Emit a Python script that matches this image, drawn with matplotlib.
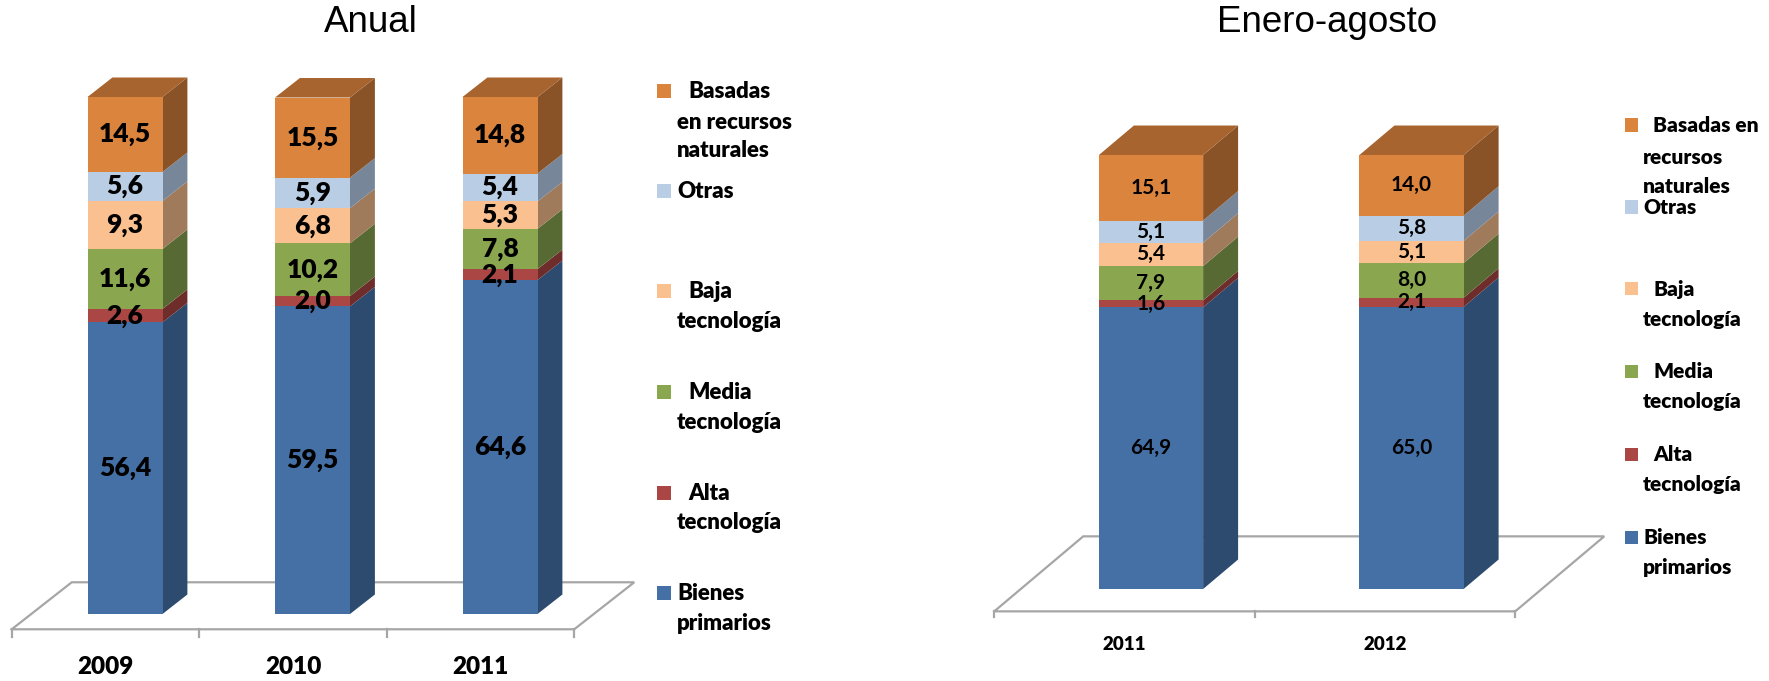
import matplotlib
matplotlib.use("Agg")
import matplotlib.pyplot as plt
from matplotlib.patches import Rectangle
import numpy as np

# ---- data -------------------------------------------------------------
series = ["Bienes primarios", "Alta tecnología", "Media tecnología",
          "Baja tecnología", "Otras", "Basadas en recursos naturales"]

anual_years = ["2009", "2010", "2011"]
anual_bienes = [56.4, 59.5, 64.6]
anual_alta = [2.6, 2.0, 2.1]
anual_media = [11.6, 10.2, 7.8]
anual_baja = [9.3, 6.8, 5.3]
anual_otras = [5.6, 5.9, 5.4]
anual_basadas = [14.5, 15.5, 14.8]

ea_years = ["2011", "2012"]
ea_bienes = [64.9, 65.0]
ea_alta = [1.6, 2.1]
ea_media = [7.9, 8.0]
ea_baja = [5.4, 5.1]
ea_otras = [5.1, 5.8]
ea_basadas = [15.1, 14.0]

# ---- style ------------------------------------------------------------
front_colors = ["#4570A6", "#AA4643", "#8AA64E", "#FBC08F", "#B9CDE5", "#DB843D"]
side_colors = ["#2D4A6F", "#6E2D2B", "#586A33", "#9F7B5C", "#778699", "#8A5327"]
top_color = "#A8642E"
floor_color = "#A6A6A6"

W, H = 1769, 681
fig = plt.figure(figsize=(W / 100, H / 100), dpi=100)


def make_axes(px_left, px_right, px_top, px_bottom, x0_px, cat_px, base_px, pct_px):
    ax = fig.add_axes([px_left / W, 1 - px_bottom / H,
                       (px_right - px_left) / W, (px_bottom - px_top) / H])
    ax.set_xlim((px_left - x0_px) / cat_px, (px_right - x0_px) / cat_px)
    ax.set_ylim((base_px - px_bottom) / pct_px, (base_px - px_top) / pct_px)
    ax.axis("off")
    ax.patch.set_alpha(0)
    return ax


def draw_chart(ax, years, stacks, depth_px, pct_px, cat_px, d0, d1,
               label_size, label_weight, year_size, year_y, tick_len):
    n = len(years)
    cats = np.arange(n)
    Dx = depth_px[0] / cat_px
    Dy = depth_px[1] / pct_px
    yfloor = -d0 * Dy
    # floor outline
    fl = [(-0.5, yfloor), (n - 0.5, yfloor), (n - 0.5 + Dx, yfloor + Dy),
          (-0.5 + Dx, yfloor + Dy), (-0.5, yfloor)]
    ax.plot([p[0] for p in fl], [p[1] for p in fl], color=floor_color,
            lw=1.6, zorder=1, solid_joinstyle="miter")
    for b in np.arange(n + 1) - 0.5:
        ax.plot([b, b], [yfloor, yfloor - tick_len], color=floor_color,
                lw=1.6, zorder=1)

    width = 0.4
    xc = cats + d0 * Dx
    ddx = (d1 - d0) * Dx
    ddy = (d1 - d0) * Dy
    bottoms = np.zeros(n)
    for k, vals in enumerate(stacks):
        vals = np.asarray(vals)
        ax.bar(xc, vals, bottom=bottoms, width=width, color=front_colors[k],
               lw=0, zorder=3)
        for i in range(n):
            xr = xc[i] + width / 2
            y0, y1 = bottoms[i], bottoms[i] + vals[i]
            ax.fill([xr, xr + ddx, xr + ddx, xr],
                    [y0, y0 + ddy, y1 + ddy, y1],
                    color=side_colors[k], lw=0, zorder=2)
            txt = f"{vals[i]:.1f}".replace(".", ",")
            ax.text(xc[i], (y0 + y1) / 2, txt, ha="center", va="center",
                    fontsize=label_size, fontweight=label_weight,
                    family="Lato", color="black", zorder=5)
        bottoms = bottoms + vals
    for i in range(n):
        xl, xr = xc[i] - width / 2, xc[i] + width / 2
        yt = bottoms[i]
        ax.fill([xl, xr, xr + ddx, xl + ddx], [yt, yt, yt + ddy, yt + ddy],
                color=top_color, lw=0, zorder=2)
    for i, y in enumerate(years):
        ax.text(cats[i], year_y, y, ha="center", va="center",
                fontsize=year_size, fontweight="heavy", family="Lato")


# Anual
ax1 = make_axes(0, 640, 40, 681, x0_px=105.5, cat_px=187.5, base_px=614, pct_px=5.17)
draw_chart(ax1, anual_years,
           [anual_bienes, anual_alta, anual_media, anual_baja, anual_otras, anual_basadas],
           depth_px=(60, 47), pct_px=5.17, cat_px=187.5, d0=0.325, d1=0.74,
           label_size=19, label_weight="heavy", year_size=17.5,
           year_y=(614 - 667) / 5.17, tick_len=8 / 5.17)

# Enero-agosto
ax2 = make_axes(960, 1769, 40, 681, x0_px=1124.5, cat_px=260.5, base_px=589, pct_px=4.34)
draw_chart(ax2, ea_years,
           [ea_bienes, ea_alta, ea_media, ea_baja, ea_otras, ea_basadas],
           depth_px=(89, 75), pct_px=4.34, cat_px=260.5, d0=0.298, d1=0.691,
           label_size=15, label_weight="bold", year_size=13.5,
           year_y=(589 - 644) / 4.34, tick_len=6 / 4.34)

# titles
fig.text(371 / W, 1 - 23 / H, "Anual", ha="center", va="center",
         fontsize=26.5, family="Liberation Sans")
fig.text(1327 / W, 1 - 23 / H, "Enero-agosto", ha="center", va="center",
         fontsize=26.5, family="Liberation Sans")


# legends: square centre y and wrapped text lines (text, x, centre y), top to bottom
def draw_legend(sq_x, sq_size, entries, fsize):
    order = [5, 4, 3, 2, 1, 0]
    for k, (sq_y, lines) in zip(order, entries):
        fig.patches.append(Rectangle(((sq_x) / W, 1 - (sq_y + sq_size / 2) / H),
                                     sq_size / W, sq_size / H,
                                     transform=fig.transFigure,
                                     color=front_colors[k], lw=0))
        for text, tx, ty in lines:
            fig.text(tx / W, 1 - (ty + 7) / H, text, ha="left", va="baseline",
                     fontsize=fsize, fontweight="heavy", family="Lato")


draw_legend(657, 14, [
    (91, [("Basadas", 688, 91), ("en recursos", 677, 122), ("naturales", 677, 150)]),
    (191, [("Otras", 677, 191)]),
    (291, [("Baja", 688, 291), ("tecnología", 677, 321)]),
    (392, [("Media", 688, 392), ("tecnología", 677, 422)]),
    (493, [("Alta", 688, 493), ("tecnología", 677, 522)]),
    (593, [("Bienes", 677, 593), ("primarios", 677, 623)]),
], 16)

draw_legend(1625, 13, [
    (125, [("Basadas en", 1653, 125), ("recursos", 1643, 157), ("naturales", 1643, 186)]),
    (207, [("Otras", 1643, 207)]),
    (289, [("Baja", 1653, 289), ("tecnología", 1643, 319)]),
    (371, [("Media", 1653, 371), ("tecnología", 1643, 401)]),
    (454, [("Alta", 1653, 454), ("tecnología", 1643, 484)]),
    (537, [("Bienes", 1643, 537), ("primarios", 1643, 567)]),
], 15)

fig.savefig("out.png", dpi=100)
